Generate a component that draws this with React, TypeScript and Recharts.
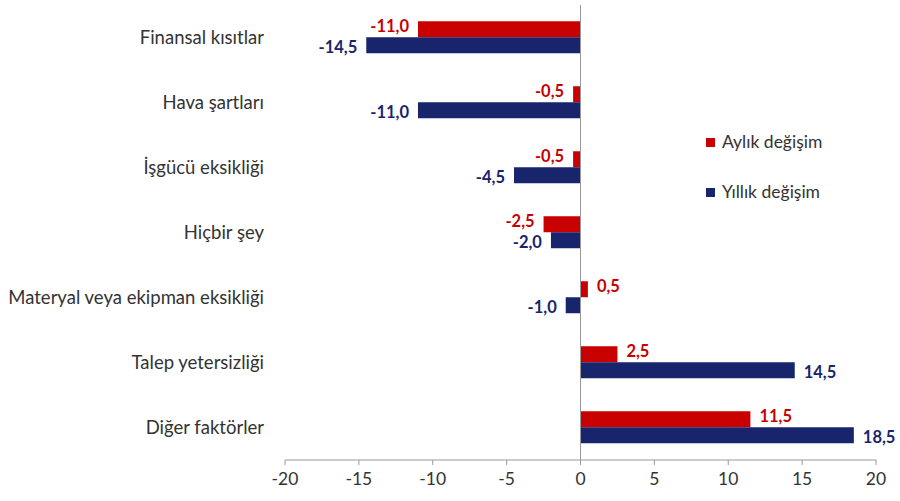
import React from 'react';
import { BarChart, Bar, XAxis, YAxis, ReferenceLine, LabelList } from 'recharts';

const categories = [
  'Finansal kısıtlar',
  'Hava şartları',
  'İşgücü eksikliği',
  'Hiçbir şey',
  'Materyal veya ekipman eksikliği',
  'Talep yetersizliği',
  'Diğer faktörler',
];
const monthly = [-11.0, -0.5, -0.5, -2.5, 0.5, 2.5, 11.5];
const yearly = [-14.5, -11.0, -4.5, -2.0, -1.0, 14.5, 18.5];
const xTicks = [-20, -15, -10, -5, 0, 5, 10, 15, 20];

const RED = '#C80000';
const NAVY = '#18256C';
const FONT = 'Lato, "Open Sans", sans-serif';

const data = categories.map((name, i) => ({ name, monthly: monthly[i], yearly: yearly[i] }));

const fmt = (v: number) => v.toFixed(1).replace('.', ',');

const makeLabel = (color: string, shift: number) => (props: any) => {
  const { x, y, width, height, value } = props;
  const neg = value < 0;
  const left = Math.min(x, x + width);
  const right = Math.max(x, x + width);
  const tx = neg ? left - 9 : right + 9;
  return (
    <text
      x={tx}
      y={y + height / 2 + shift}
      dy={6}
      textAnchor={neg ? 'end' : 'start'}
      fill={color}
      fontFamily={FONT}
      fontWeight={700}
      fontSize={16.5}
    >
      {fmt(value)}
    </text>
  );
};

const LegendBox = () => (
  <div
    style={{
      position: 'absolute',
      left: 706,
      top: 131,
      fontFamily: FONT,
      fontSize: 17.5,
      color: '#333',
      lineHeight: '22px',
    }}
  >
    <div style={{ display: 'flex', alignItems: 'center', marginBottom: 28 }}>
      <span style={{ width: 9, height: 9, background: RED, display: 'inline-block', marginRight: 7 }} />
      Aylık değişim
    </div>
    <div style={{ display: 'flex', alignItems: 'center' }}>
      <span style={{ width: 9, height: 9, background: NAVY, display: 'inline-block', marginRight: 7 }} />
      Yıllık değişim
    </div>
  </div>
);

export default function App() {
  return (
    <div style={{ position: 'absolute', left: 0, top: 0, width: 900, height: 501, background: '#fff' }}>
      <BarChart
        width={900}
        height={501}
        data={data}
        layout="vertical"
        margin={{ top: 5, right: 24, left: 0, bottom: 0 }}
        barCategoryGap="25%"
        barGap={0}
      >
        <XAxis
          type="number"
          domain={[-20, 20]}
          ticks={xTicks}
          height={41}
          tick={{ fill: '#333', fontSize: 17.5, fontFamily: FONT }}
          axisLine={{ stroke: '#999' }}
          tickLine={{ stroke: '#999' }}
          tickSize={5}
          tickMargin={8}
        />
        <YAxis
          type="category"
          dataKey="name"
          width={285}
          axisLine={false}
          tickLine={false}
          tickMargin={15}
          tick={{ fill: '#333', fontSize: 18.5, fontFamily: FONT }}
        />
        <ReferenceLine x={0} stroke="#999" />
        <Bar dataKey="monthly" name="Aylık değişim" fill={RED} isAnimationActive={false}>
          <LabelList dataKey="monthly" content={makeLabel(RED, -3)} />
        </Bar>
        <Bar dataKey="yearly" name="Yıllık değişim" fill={NAVY} isAnimationActive={false}>
          <LabelList dataKey="yearly" content={makeLabel(NAVY, 2)} />
        </Bar>
      </BarChart>
      <LegendBox />
    </div>
  );
}
